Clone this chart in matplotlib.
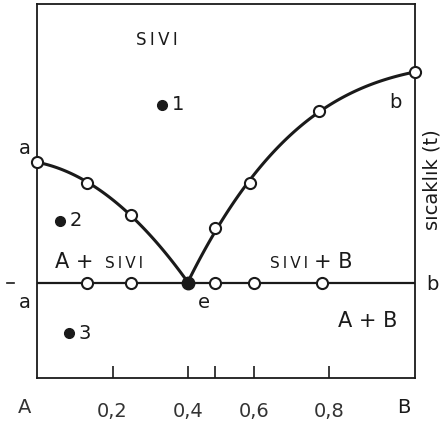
import matplotlib.pyplot as plt
import numpy as np

plt.rcParams['font.family'] = ['DejaVu Sans']

# liquidus of A (left branch) and of B (right branch), ends at the eutectic e
left_x = [0.0, 0.132, 0.25, 0.4]
left_t = [0.578, 0.521, 0.436, 0.254]
right_x = [0.4, 0.471, 0.563, 0.747, 1.0]
right_t = [0.254, 0.401, 0.521, 0.714, 0.818]

# eutectic line and the points measured on it
eut_t = 0.254
eut_open_x = [0.132, 0.25, 0.471, 0.574, 0.755]
eut_x = 0.4

# sample points 1, 2, 3
pts_x = [0.332, 0.061, 0.084]
pts_t = [0.730, 0.420, 0.120]
pts_lab = ['1', '2', '3']

# tick marks where the drawing has them
tick_pos = [0.2, 0.4, 0.471, 0.574, 0.774]
tick_lab = ['0,2', '0,4', '', '0,6', '0,8']

sivi = '\u2009'.join('SIVI')

fig = plt.figure(figsize=(4.42, 4.25), dpi=100)
ax = fig.add_axes([0.0837, 0.1106, 0.855, 0.88])
ax.set_xlim(0, 1)
ax.set_ylim(0, 1)

ink = '#1a1a1a'

# smooth curves through the measured points
cl = np.polyfit(left_x, left_t, 2)
xl = np.linspace(0, 0.4, 100)
ax.plot(xl, np.polyval(cl, xl), color=ink, lw=2.2, zorder=2)
cr = np.polyfit(right_x, right_t, 3)
xr = np.linspace(0.4, 1.0, 100)
ax.plot(xr, np.polyval(cr, xr), color=ink, lw=2.2, zorder=2)

ax.axhline(eut_t, color=ink, lw=1.6, zorder=2)
ax.plot([-0.08, -0.06], [eut_t, eut_t], color=ink, lw=1.2, clip_on=False)

mk = dict(marker='o', ms=8, mfc='white', mec=ink, mew=1.5, ls='none', zorder=3, clip_on=False)
ax.plot(left_x[:-1], left_t[:-1], **mk)
ax.plot(right_x[1:], right_t[1:], **mk)
ax.plot(eut_open_x, [eut_t] * len(eut_open_x), **mk)
ax.plot([eut_x], [eut_t], marker='o', ms=9, color=ink, zorder=4)

ax.plot(pts_x, pts_t, 'o', ms=7, color=ink, zorder=4)
for x, t, s in zip(pts_x, pts_t, pts_lab):
    ax.text(x + 0.026, t, s, fontsize=14, va='center', ha='left', color=ink)

# region labels
ax.text(0.318, 0.904, sivi, fontsize=12, ha='center', va='center', color=ink)
ax.text(0.047, 0.294, 'A +', fontsize=15, color=ink)
ax.text(0.180, 0.294, sivi, fontsize=11, color=ink)
ax.text(0.616, 0.294, sivi, fontsize=11, color=ink)
ax.text(0.732, 0.294, '+ B', fontsize=15, color=ink)
ax.text(0.797, 0.136, 'A + B', fontsize=15, color=ink)
ax.text(0.426, 0.187, 'e', fontsize=14, color=ink)
ax.text(0.932, 0.722, 'b', fontsize=14, color=ink)
ax.text(1.03, 0.235, 'b', fontsize=14, color=ink, clip_on=False)
ax.text(-0.047, 0.60, 'a', fontsize=14, color=ink, clip_on=False)
ax.text(-0.047, 0.187, 'a', fontsize=14, color=ink, clip_on=False)

ax.text(1.045, 0.53, 'sıcaklık (t)', fontsize=14, rotation=90, ha='center', va='center',
        color=ink, clip_on=False)

ax.set_xticks(tick_pos)
ax.set_xticklabels(tick_lab, fontsize=14, color='#333333')
ax.tick_params(axis='x', direction='in', length=9, width=1.2, pad=17, color=ink)
ax.set_yticks([])
ax.text(-0.032, -0.08, 'A', fontsize=14, ha='center', va='center', color='#333333',
        transform=ax.transAxes)
ax.text(0.97, -0.08, 'B', fontsize=14, ha='center', va='center', color=ink,
        transform=ax.transAxes)

for sp in ax.spines.values():
    sp.set_linewidth(1.3)
    sp.set_color(ink)

fig.savefig('out.png', dpi=100)
